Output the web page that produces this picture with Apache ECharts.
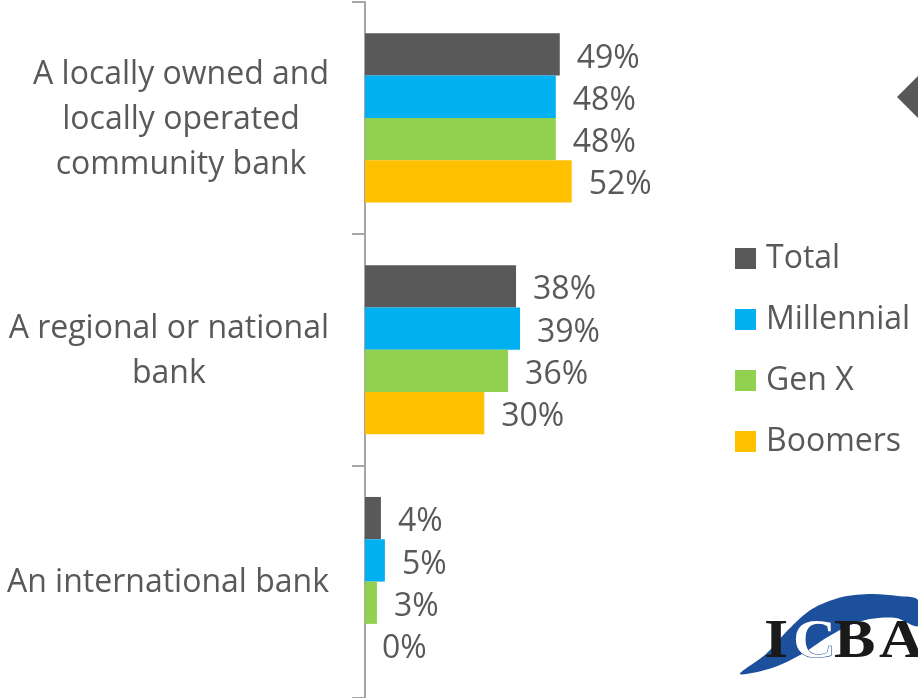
<!DOCTYPE html>
<html>
<head>
<meta charset="utf-8">
<script src="https://cdn.jsdelivr.net/npm/echarts@6/dist/echarts.min.js"></script>
<style>
  html, body { margin: 0; padding: 0; background: #ffffff; }
  #chart { width: 918px; height: 698px; }
</style>
</head>
<body>
<div id="chart"></div>
<script>
// Bank type preference by generation (% of respondents)
const categories = [
  "A locally owned and\nlocally operated\ncommunity bank",
  "A regional or national\nbank",
  "An international bank"
];
const seriesNames = ["Total", "Millennial", "Gen X", "Boomers"];
const totalValues = [49, 38, 4];
const millennialValues = [48, 39, 5];
const genXValues = [48, 36, 3];
const boomerValues = [52, 30, 0];

const colors = ["#595959", "#00b0f0", "#92d050", "#ffc000"];
const textColor = "#595959";
const fontFamily = "'Open Sans', sans-serif";
const serifFamily = "'Liberation Serif', serif";

const seriesValues = [totalValues, millennialValues, genXValues, boomerValues];

const chart = echarts.init(document.getElementById("chart"), null, { renderer: "canvas" });

// Logo swoosh outline (decorative)
const swooshOutline = [
  [740, 674], [766, 654], [788, 630], [812, 609], [842, 597], [872, 594], [898, 596], [918, 600],
  [918, 626], [896, 618], [870, 619], [848, 626], [826, 638], [802, 654], [772, 668]
];

const option = {
  backgroundColor: "#ffffff",
  animation: false,
  color: colors,
  textStyle: { fontFamily: fontFamily },
  grid: { left: 365, top: 2, width: 238.5, height: 695.5, containLabel: false },
  xAxis: {
    type: "value",
    min: 0,
    max: 60,
    show: false
  },
  yAxis: {
    type: "category",
    inverse: true,
    data: categories,
    axisLine: { show: true, lineStyle: { color: "#a6a6a6", width: 2 } },
    axisTick: { show: true, length: 13, lineStyle: { color: "#a6a6a6", width: 2 } },
    splitLine: { show: false },
    axisLabel: {
      align: "right",
      margin: 36,
      formatter: function (v) {
        return v.split("\n").map(function (s) { return "{c|" + s + "}"; }).join("\n");
      },
      rich: {
        c: {
          align: "center",
          fontSize: 32,
          lineHeight: 45,
          padding: [3, 0, 0, 0],
          color: textColor,
          fontFamily: fontFamily
        }
      }
    }
  },
  legend: {
    orient: "vertical",
    left: 735,
    top: 242.5,
    padding: 0,
    icon: "rect",
    itemWidth: 21,
    itemHeight: 21,
    itemGap: 29,
    data: seriesNames,
    formatter: "{t|{name}}",
    textStyle: {
      fontSize: 32, lineHeight: 32, color: textColor, fontFamily: fontFamily,
      rich: { t: { fontSize: 32, lineHeight: 32, color: textColor, fontFamily: fontFamily, padding: [0, 0, 0, 5] } }
    }
  },
  series: seriesNames.map(function (name, i) {
    return {
      name: name,
      type: "bar",
      data: seriesValues[i],
      barGap: "0%",
      barCategoryGap: "27%",
      itemStyle: { color: colors[i] },
      label: {
        show: true,
        position: "right",
        distance: 17,
        offset: [0, 4],
        formatter: "{c}%",
        fontSize: 32,
        color: textColor,
        fontFamily: fontFamily
      }
    };
  }),
  graphic: [
    // grey pointer at the top right edge
    {
      type: "polygon",
      shape: { points: [[897, 97], [940, 54], [940, 140]] },
      style: { fill: "#58585a" }
    },
    // ICBA logo: blue swoosh with serif letters
    {
      type: "polygon",
      shape: { points: swooshOutline, smooth: 0.3 },
      style: { fill: "#1c4f9c" }
    },
    {
      type: "text",
      x: 764,
      y: 616,
      scaleX: 1.15,
      style: { text: "I", fontSize: 54, fontWeight: "bold", fontFamily: serifFamily, fill: "#1a1a1a" }
    },
    {
      type: "text",
      x: 793,
      y: 616,
      scaleX: 1.1,
      style: { text: "C", fontSize: 54, fontWeight: "bold", fontFamily: serifFamily, fill: "#ffffff", stroke: "#1c4f9c", lineWidth: 1 }
    },
    {
      type: "text",
      x: 834,
      y: 616,
      scaleX: 1.15,
      style: { text: "B", fontSize: 54, fontWeight: "bold", fontFamily: serifFamily, fill: "#1a1a1a" }
    },
    {
      type: "text",
      x: 879,
      y: 616,
      scaleX: 1.15,
      style: { text: "A", fontSize: 54, fontWeight: "bold", fontFamily: serifFamily, fill: "#1a1a1a" }
    }
  ]
};

chart.setOption(option);
</script>
</body>
</html>
